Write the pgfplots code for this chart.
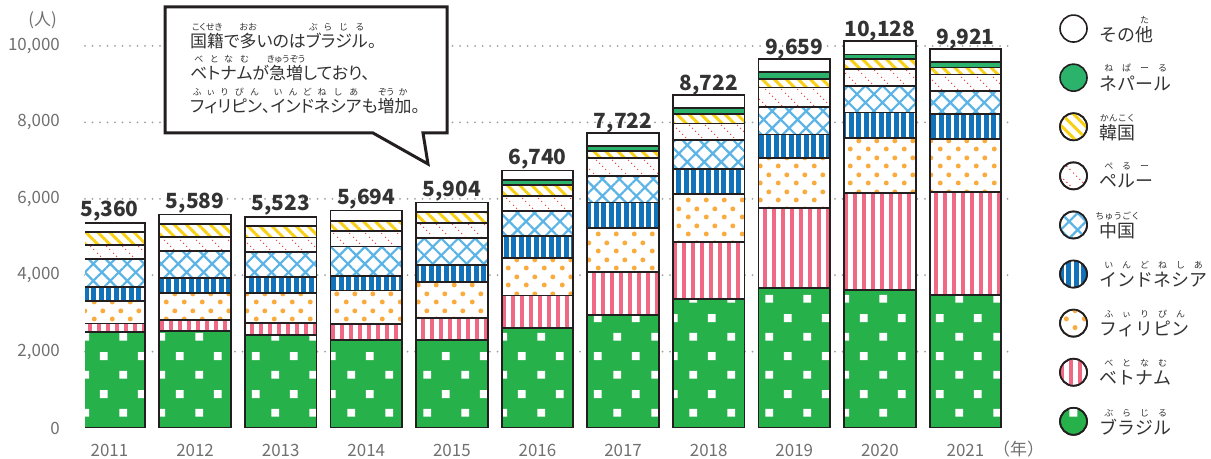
\documentclass[border=0pt]{standalone}
\usepackage{fontspec}
\setmainfont{Noto Sans CJK JP}
\newfontfamily\callfont[RawFeature=+palt]{Noto Sans CJK JP}
\usepackage{pgfplots}
\pgfplotsset{compat=1.18}
\usepackage{pgfplotstable}
\usetikzlibrary{patterns.meta}

\definecolor{brgreen}{HTML}{27B14B}
\definecolor{vnpink}{HTML}{EF6985}
\definecolor{phorange}{HTML}{F9AC3D}
\definecolor{idblue}{HTML}{1273BA}
\definecolor{cnblue}{HTML}{5BB4E5}
\definecolor{pered}{HTML}{EB4B48}
\definecolor{kryellow}{HTML}{F8D117}
\definecolor{npgreen}{HTML}{2BB36C}
\definecolor{edge}{HTML}{231F20}
\definecolor{txt}{HTML}{333333}
\definecolor{ticktxt}{HTML}{707070}
\definecolor{gridc}{HTML}{A0A0A0}

% furigana
\newcommand{\rubyfont}{\fontsize{9}{9}\selectfont}
\newcommand{\rb}[2]{\leavevmode\setbox0\hbox{#1}\rlap{\hbox to\wd0{\hss\smash{\raisebox{1.02em}{\rubyfont #2}}\hss}}\box0}

% custom patterns
\tikzdeclarepattern{
  name=brsquares, type=uncolored,
  bounding box={(0,0) and (38bp,38bp)},
  tile size={(38bp,38bp)},
  code={
    \fill (5.5bp,5.5bp) rectangle (13.5bp,13.5bp);
    \fill (24.5bp,24.5bp) rectangle (32.5bp,32.5bp);
  }
}
\tikzdeclarepattern{
  name=phdots, type=uncolored,
  bounding box={(0,0) and (18bp,17bp)},
  tile size={(18bp,17bp)},
  code={
    \fill (4.5bp,4.25bp) circle (2.6bp);
    \fill (13.5bp,12.75bp) circle (2.6bp);
  }
}
\tikzdeclarepattern{
  name=pedots, type=uncolored,
  bounding box={(0,0) and (16bp,16bp)},
  tile size={(16bp,16bp)},
  code={
    \fill (1.6bp,14.4bp) circle (0.8bp);
    \fill (4.8bp,11.2bp) circle (0.8bp);
    \fill (8bp,8bp) circle (0.8bp);
    \fill (11.2bp,4.8bp) circle (0.8bp);
    \fill (14.4bp,1.6bp) circle (0.8bp);
  }
}

\tikzset{
  segment/.style={draw=edge, line width=1.8bp},
  brazil/.style={segment, preaction={fill=brgreen}, pattern=brsquares, pattern color=white},
  vietnam/.style={segment, preaction={fill=white}, pattern={Lines[angle=90,distance=9bp,line width=4bp]}, pattern color=vnpink},
  phil/.style={segment, preaction={fill=white}, pattern=phdots, pattern color=phorange},
  indo/.style={segment, preaction={fill=idblue}, pattern={Lines[angle=90,distance=7.5bp,line width=2.5bp]}, pattern color=white},
  china/.style={segment, preaction={fill=white}, pattern={Hatch[angle=45,distance=12bp,line width=2.2bp]}, pattern color=cnblue},
  peru/.style={segment, preaction={fill=white}, pattern=pedots, pattern color=pered},
  korea/.style={segment, preaction={fill=white}, pattern={Lines[angle=-45,distance=8.5bp,line width=3bp]}, pattern color=kryellow},
  nepal/.style={segment, fill=npgreen},
  other/.style={segment, fill=white},
}

\pgfplotstableread{
i  BR   VN   PH   ID  CN  PE  KR  NP  OT  total
0  2518 220  583  374 724 366 348 0   227 5360
1  2533 288  713  392 697 374 349 0   243 5589
2  2444 313  777  409 670 375 294 0   241 5523
3  2296 426  878  382 771 399 274 0   268 5694
4  2309 580  936  447 712 385 283 0   252 5904
5  2614 852  988  570 660 396 275 132 253 6740
6  2968 1112 1148 674 700 456 201 114 349 7722
7  3386 1481 1251 662 750 440 248 150 354 8722
8  3673 2094 1300 615 730 501 219 177 350 9659
9  3607 2554 1422 677 700 448 255 114 351 10128
10 3489 2697 1386 657 586 439 184 150 333 9921
}\data

\pgfplotsset{
  /pgf/number format/1000 sep={,},
  /pgf/number format/assume math mode=true,
}

\begin{document}
\begin{tikzpicture}
\useasboundingbox (0,0) rectangle (1211bp,459bp);
\begin{axis}[
    at={(85bp,31bp)}, anchor=south west,
    scale only axis,
    width=925bp, height=401.1bp,
    xmin=-0.286, xmax=10.52,
    ymin=0, ymax=10500,
    ybar stacked,
    bar width=0.835,
    xtick=data,
    xticklabel={\pgfmathtruncatemacro{\yr}{2011+\tick}\pgfmathprintnumber[1000 sep={}]{\yr}},
    ytick={2000,4000,6000,8000,10000},
    scaled y ticks=false,
    extra y ticks={0},
    extra y tick style={grid=none},
    ymajorgrids,
    major grid style={draw=gridc, line width=2bp, dash pattern=on 0bp off 7.5bp, line cap=round},
    axis line style={draw=none},
    major tick length=0pt,
    tick label style={font=\fontsize{17}{17}\selectfont, text=ticktxt},
    yticklabel style={inner sep=0pt, anchor=east, xshift=-25bp},
    xticklabel style={inner sep=0pt, anchor=center, yshift=-22bp},
    reverse legend,
    legend image code/.code={\draw[#1, line width=1.6bp] (14bp,6bp) circle (13.5bp);},
    legend style={draw=none, fill=none, at={(1.053,1.032)}, anchor=north west,
      inner sep=0pt, row sep=20.5bp,
      font=\fontsize{18}{18}\selectfont, text=txt,
      nodes={inner sep=0pt},
      /tikz/every odd column/.append style={column sep=12bp}},
    legend cell align=left,
  ]
  \addplot[brazil] table[x=i, y=BR] {\data};
  \addlegendentry{\rb{ブ}{ぶ}\rb{ラ}{ら}\rb{ジ}{じ}\rb{ル}{る}}
  \addplot[vietnam] table[x=i, y=VN] {\data};
  \addlegendentry{\rb{ベ}{べ}\rb{ト}{と}\rb{ナ}{な}\rb{ム}{む}}
  \addplot[phil] table[x=i, y=PH] {\data};
  \addlegendentry{\rb{フ}{ふ}\rb{ィ}{ぃ}\rb{リ}{り}\rb{ピ}{ぴ}\rb{ン}{ん}}
  \addplot[indo] table[x=i, y=ID] {\data};
  \addlegendentry{\rb{イ}{い}\rb{ン}{ん}\rb{ド}{ど}\rb{ネ}{ね}\rb{シ}{し}\rb{ア}{あ}}
  \addplot[china] table[x=i, y=CN] {\data};
  \addlegendentry{\rb{中国}{ちゅうごく}}
  \addplot[peru] table[x=i, y=PE] {\data};
  \addlegendentry{\rb{ペ}{ぺ}\rb{ル}{る}\rb{ー}{ー}}
  \addplot[korea] table[x=i, y=KR] {\data};
  \addlegendentry{\rb{韓国}{かんこく}}
  \addplot[nepal] table[x=i, y=NP] {\data};
  \addlegendentry{\rb{ネ}{ね}\rb{パ}{ぱ}\rb{ー}{ー}\rb{ル}{る}}
  \addplot[other, point meta=explicit,
    nodes near coords={\pgfmathprintnumber{\pgfplotspointmeta}},
    every node near coord/.append style={anchor=base, yshift=11bp, inner sep=0pt,
      font=\bfseries\fontsize{21}{21}\selectfont, text=txt}]
    table[x=i, y=OT, meta=total] {\data};
  \addlegendentry{その\rb{他}{た}}
\end{axis}

% axis unit labels
\node[anchor=east, inner sep=0pt, text=ticktxt, font=\fontsize{17}{17}\selectfont] at (57bp,439bp) {(人)};
\node[anchor=west, inner sep=0pt, text=ticktxt, font=\fontsize{17}{17}\selectfont] at (993bp,10bp) {（年）};

% callout
\draw[edge, line width=3bp, fill=white, line join=miter]
  (165bp,452bp) -- (447bp,452bp) -- (447bp,326bp) -- (423bp,326bp)
  -- (428bp,295bp) -- (373bp,326bp) -- (165bp,326bp) -- cycle;
\begin{scope}[every node/.style={anchor=west, inner sep=0pt, text=txt, font=\callfont\fontsize{17}{17}\selectfont}]
  \node at (190bp,418bp) {\rb{国籍}{こくせき}で\rb{多}{おお}いのは\rb{ブ}{ぶ}\rb{ラ}{ら}\rb{ジ}{じ}\rb{ル}{る}。};
  \node at (190bp,386bp) {\rb{ベ}{べ}\rb{ト}{と}\rb{ナ}{な}\rb{ム}{む}が\rb{急増}{きゅうぞう}しており、};
  \node at (190bp,353bp) {\rb{フ}{ふ}\rb{ィ}{ぃ}\rb{リ}{り}\rb{ピ}{ぴ}\rb{ン}{ん}、\rb{イ}{い}\rb{ン}{ん}\rb{ド}{ど}\rb{ネ}{ね}\rb{シ}{し}\rb{ア}{あ}も\rb{増}{ぞう}\rb{加}{か}。};
\end{scope}
\end{tikzpicture}
\end{document}
